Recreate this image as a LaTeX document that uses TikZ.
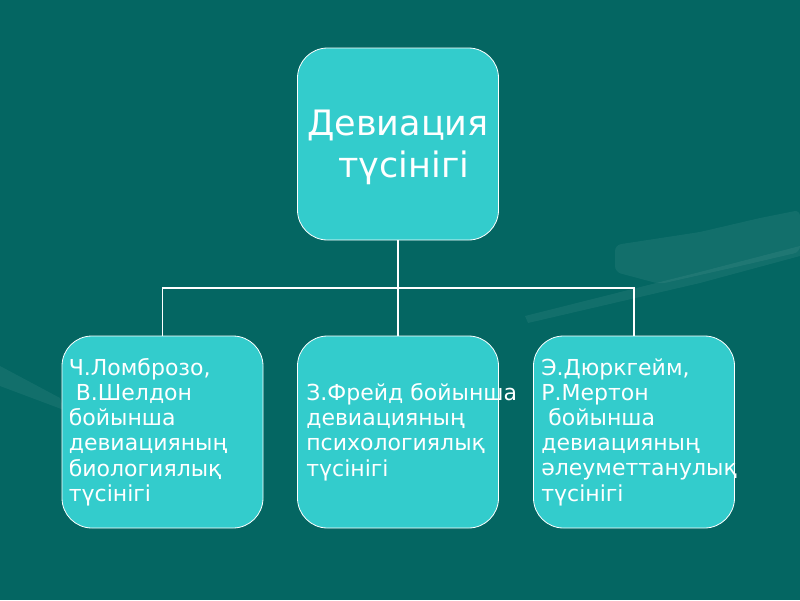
\documentclass[tikz,border=0pt]{standalone}
\usepackage{fontspec}
\setmainfont{DejaVu Sans}
\definecolor{bgteal}{RGB}{4,102,98}
\definecolor{boxfill}{RGB}{51,204,204}
\begin{document}
\begin{tikzpicture}[x=1pt,y=-1pt,
  cbox/.style={draw=white, line width=0.8pt, fill=boxfill, rounded corners=30pt,
    minimum width=201pt, minimum height=192pt, inner sep=0pt},
  toplbl/.style={text=white, inner sep=0pt, align=center,
    font=\fontsize{35pt}{42pt}\selectfont},
  lbl/.style={text=white, inner sep=0pt, align=left, anchor=west,
    font=\fontsize{22pt}{25.2pt}\selectfont},
  conn/.style={draw=white, line width=1.4pt}]
\fill[bgteal] (0,0) rectangle (800,600);
\useasboundingbox (0,0) rectangle (800,600);
% faint background streaks
\fill[white, opacity=0.06, rounded corners=6pt] (615,245) -- (700,232) -- (760,218) -- (800,210) -- (800,252) -- (740,266) -- (660,284) -- (615,272) -- cycle;
\fill[white, opacity=0.06] (525,316) -- (700,272) -- (800,246) -- (800,256) -- (700,283) -- (528,323) -- cycle;
\fill[white, opacity=0.06] (0,366) -- (60,398) -- (64,410) -- (0,386) -- cycle;
% boxes
\node[cbox] (top) at (398,144) {};
\node[cbox] (left) at (162.5,432) {};
\node[cbox] (mid) at (398,432) {};
\node[cbox] (right) at (634,432) {};
% texts
\node[toplbl] (toptext) at (398,147) {Девиация\\\hspace*{0.34em}түсінігі};
\node[lbl] (lefttext) at ([xshift=7pt]left.west) {Ч.Ломброзо,\\\hspace*{0.32em}В.Шелдон\\бойынша\\девиацияның\\биологиялық\\түсінігі};
\node[lbl] (midtext) at ([xshift=9pt]mid.west) {З.Фрейд бойынша\\девиацияның\\психологиялық\\түсінігі};
\node[lbl] (righttext) at ([xshift=8pt]right.west) {Э.Дюркгейм,\\Р.Мертон\\\hspace*{0.32em}бойынша\\девиацияның\\әлеуметтанулық\\түсінігі};
% connectors
\coordinate (j) at (398,288);
\draw[conn] (top.south) -- (j);
\draw[conn] (j) -- (mid.north);
\draw[conn] (j) -| (left.north);
\draw[conn] (j) -| (right.north);
\end{tikzpicture}
\end{document}
